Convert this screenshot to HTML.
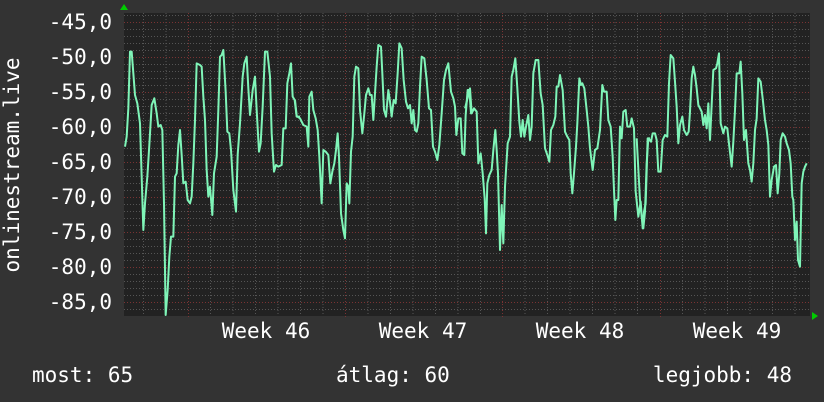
<!DOCTYPE html>
<html><head><meta charset="utf-8"><style>
html,body{margin:0;padding:0;background:#333;}
svg{display:block}
text{font-family:"DejaVu Sans Mono","Liberation Mono",monospace;fill:#fff;font-size:21px}
</style></head><body>
<svg width="824" height="402" viewBox="0 0 824 402" xmlns="http://www.w3.org/2000/svg">
<rect width="824" height="402" fill="#333"/>
<rect x="124" y="13" width="686" height="303" fill="#222"/>
<g stroke="#555" stroke-width="1" stroke-dasharray="1,2">
<path d="M143.5 13V316M166 13V316M210.5 13V316M233 13V316M255.5 13V316M278 13V316M300.5 13V316M323 13V316M368 13V316M390.5 13V316M413 13V316M435.5 13V316M458 13V316M480.5 13V316M525 13V316M547.5 13V316M570 13V316M592.5 13V316M615 13V316M637.5 13V316M682.5 13V316M705 13V316M727.5 13V316M750 13V316M772.5 13V316M795 13V316"/>
<path d="M124 15.5H810M124 29.5H810M124 36.5H810M124 43.5H810M124 50.5H810M124 64.5H810M124 71.5H810M124 78.5H810M124 85.5H810M124 99.5H810M124 106.5H810M124 113.5H810M124 120.5H810M124 134.5H810M124 141.5H810M124 148.5H810M124 155.5H810M124 169.5H810M124 176.5H810M124 183.5H810M124 190.5H810M124 204.5H810M124 211.5H810M124 218.5H810M124 225.5H810M124 239.5H810M124 246.5H810M124 253.5H810M124 260.5H810M124 274.5H810M124 281.5H810M124 288.5H810M124 295.5H810M124 309.5H810"/>
</g>
<g stroke="#7a3333" stroke-width="1" stroke-dasharray="1,2">
<path d="M188.5 13V318M345.5 13V318M502.5 13V318M660.5 13V318"/>
<path d="M124 22.5H810M124 57.5H810M124 92.5H810M124 127.5H810M124 162.5H810M124 197.5H810M124 232.5H810M124 267.5H810M124 302.5H810"/>
</g>
<path d="M120 10L128 10L124 4Z" fill="#0c0"/>
<path d="M812 312L812 320L818 316Z" fill="#0c0"/>
<g fill="none" stroke="#7ff5b8" stroke-width="6" stroke-linejoin="round">
<polyline transform="translate(120,30) scale(0.33333)" points="15,350 20,320 25,235 30,65 35,65 40,130 45,195 52,220 60,280 65,440 70,600 75,520 82,440 88,345 95,225 103,205 110,250 115,290 122,285 127,300 132,520 137,855 143,780 148,680 153,620 160,620 165,440 170,430 175,345 180,300 185,375 190,460 197,455 203,510 210,520 215,500 220,400 225,270 230,100 240,105 245,110 250,200 255,270 260,420 265,500 270,470 277,555 282,430 290,380 295,240 300,80 305,75 310,60 317,185 322,305 328,310 333,360 340,480 348,545 353,375 360,280 368,140 373,100 380,80 385,175 390,255 398,180 405,140 410,240 417,365 422,340 428,230 435,65 442,65 450,140 455,310 462,425 468,405 475,410 485,405 490,295 497,295 502,160 508,130 513,100 518,200 524,210 530,260 540,260"/>
<polyline transform="translate(295,30) scale(0.33333)" points="0,210 5,258 15,265 25,285 35,290 40,350 43,200 50,185 55,240 62,265 68,300 73,380 80,520 85,360 92,365 100,375 106,460 112,425 118,400 123,360 128,310 132,380 138,550 145,600 150,625 155,460 160,470 163,520 168,365 173,320 178,140 183,110 190,115 195,240 202,310 208,250 213,195 220,175 225,195 230,195 235,270 240,190 245,110 250,45 258,50 262,130 267,240 273,260 280,180 285,215 290,260 296,210 302,220 308,130 313,40 320,55 326,150 333,215 339,235 345,225 350,280 355,240 360,300 365,305 370,280 375,170 380,80 388,85 395,150 402,235 408,240 414,350 420,365 427,390 433,345 440,250 447,150 453,120 460,100 468,185 475,205 480,230 484,315 490,265 497,265 502,370 508,375 512,255 518,180 523,180 528,250 535,240 540,235"/>
<polyline transform="translate(470,30) scale(0.33333)" points="-15,235 0,175 5,250 12,235 20,245 25,400 32,370 38,430 44,505 48,610 52,460 58,435 65,420 70,360 76,300 80,360 84,430 90,660 95,525 100,640 105,470 113,340 120,320 125,140 130,120 136,85 142,175 148,275 153,320 158,270 163,320 168,290 175,255 180,330 185,290 190,130 197,90 205,90 212,190 218,225 225,355 232,375 238,395 243,300 250,285 256,260 260,170 265,170 270,135 278,180 285,305 292,320 298,330 302,430 307,490 312,430 318,350 322,280 328,145 333,165 337,160 343,175 350,240 355,290 360,355 368,420 375,360 382,355 390,300 397,165 402,185 410,185 415,270 422,290 428,380 432,480 436,570 440,510 445,510 450,290 455,325 460,245 467,240 472,290 480,290 485,265 492,295 497,485 505,560 512,515 518,595 522,545 527,520 533,325 540,325"/>
<polyline transform="translate(640,30) scale(0.33333)" points="-10,325 0,510 5,560 10,595 15,545 20,400 25,325 33,335 38,310 45,310 50,330 55,425 62,425 68,330 75,315 82,320 87,160 92,75 100,85 105,155 110,230 115,340 120,285 127,260 132,300 140,315 146,305 150,245 155,145 160,110 165,135 170,175 175,225 185,245 190,285 195,255 200,295 205,220 210,330 215,225 220,120 228,115 232,100 237,70 242,280 250,310 255,290 262,295 268,350 275,410 280,335 285,240 290,130 298,130 302,95 307,190 312,330 318,300 325,400 330,420 335,455 340,400 345,300 350,265 355,145 362,155 368,205 375,270 380,300 385,345 390,500 395,450 402,410 408,405 413,490 418,430 422,330 428,310 435,320 440,340 447,360 452,400 457,500 460,510 465,630 470,575 474,690 480,710 485,460 490,425 495,410 500,400"/>
</g>
<g text-anchor="end">
<text x="112" y="29">-45,0</text>
<text x="112" y="64">-50,0</text>
<text x="112" y="99">-55,0</text>
<text x="112" y="134">-60,0</text>
<text x="112" y="169">-65,0</text>
<text x="112" y="204">-70,0</text>
<text x="112" y="239">-75,0</text>
<text x="112" y="274">-80,0</text>
<text x="112" y="309">-85,0</text>
</g>
<text transform="translate(19,165) rotate(-90)" text-anchor="middle">onlinestream.live</text>
<g text-anchor="middle">
<text x="266" y="338">Week 46</text>
<text x="423" y="338">Week 47</text>
<text x="580" y="338">Week 48</text>
<text x="737" y="338">Week 49</text>
</g>
<text x="32" y="382">most: 65</text>
<text x="336" y="382">átlag: 60</text>
<text x="792" y="382" text-anchor="end">legjobb: 48</text>
</svg>
</body></html>
